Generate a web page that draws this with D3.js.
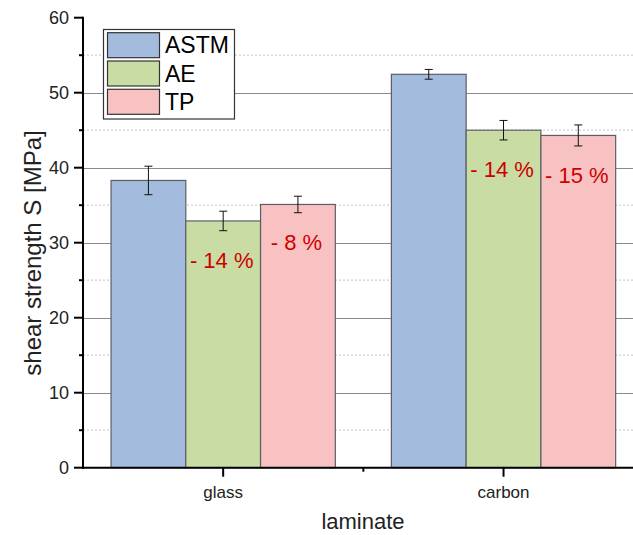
<!DOCTYPE html>
<html>
<head>
<meta charset="utf-8">
<script src="https://cdn.jsdelivr.net/npm/d3@7/dist/d3.min.js"></script>
<style>
  html, body { margin: 0; padding: 0; background: #fff; }
  svg { display: block; font-family: "Liberation Sans", Arial, sans-serif; }
</style>
</head>
<body>
<svg id="chart" width="633" height="535"></svg>
<script>
// Laminate types and test methods
const laminates = ["glass", "carbon"];
const methods = ["ASTM", "AE", "TP"];
const methodColors = ["#a3bbdc", "#c8dca4", "#f8c2c2"];

// Mean shear strength [MPa] per method, one array per laminate
const glassValues = [38.3, 32.9, 35.1];
const carbonValues = [52.45, 45.0, 44.3];
// Standard deviations for the error bars
const glassErrors = [1.9, 1.3, 1.1];
const carbonErrors = [0.65, 1.3, 1.4];
// Relative difference to ASTM
const glassLabels = ["", "- 14 %", "- 8 %"];
const carbonLabels = ["", "- 14 %", "- 15 %"];

const yMajorTicks = [0, 10, 20, 30, 40, 50, 60];
const yMinorTicks = [5, 15, 25, 35, 45, 55];

const rows = [
  { laminate: "glass", values: glassValues, errors: glassErrors, labels: glassLabels },
  { laminate: "carbon", values: carbonValues, errors: carbonErrors, labels: carbonLabels }
];

const svg = d3.select("#chart");
const plotLeft = 83, plotTop = 17.7, plotBottom = 467.7, plotRight = 643.7;

const x = d3.scaleBand().domain(laminates).range([plotLeft, plotRight]).padding(0);
const xs = d3.scaleBand().domain(methods)
  .range([x.bandwidth() * 0.1, x.bandwidth() * 0.9]).padding(0);
const y = d3.scaleLinear().domain([0, 60]).range([plotBottom, plotTop]);
const color = d3.scaleOrdinal().domain(methods).range(methodColors);

// Grid lines
svg.append("g").selectAll("line").data(yMinorTicks).join("line")
  .attr("x1", plotLeft).attr("x2", 633)
  .attr("y1", d => y(d)).attr("y2", d => y(d))
  .attr("stroke", "#cfcfcf").attr("stroke-width", 1.2).attr("stroke-dasharray", "2,2");
svg.append("g").selectAll("line").data(yMajorTicks.filter(d => d > 0 && d < 60)).join("line")
  .attr("x1", plotLeft).attr("x2", 633)
  .attr("y1", d => Math.round(y(d)) + 0.5).attr("y2", d => Math.round(y(d)) + 0.5)
  .attr("stroke", "#8a8a8a").attr("stroke-width", 1);

// Bars
const groups = svg.append("g").selectAll("g").data(rows).join("g")
  .attr("transform", d => `translate(${x(d.laminate)},0)`);

const cells = groups.selectAll("g.cell")
  .data(d => methods.map((m, i) => ({ method: m, value: d.values[i], err: d.errors[i], label: d.labels[i] })))
  .join("g").attr("class", "cell");

cells.append("rect")
  .attr("x", d => xs(d.method))
  .attr("width", xs.bandwidth())
  .attr("y", d => y(d.value))
  .attr("height", d => y(0) - y(d.value))
  .attr("fill", d => color(d.method))
  .attr("stroke", "#5a5f66").attr("stroke-width", 1.2);

// Error bars
const cap = 4;
cells.append("line")
  .attr("x1", d => xs(d.method) + xs.bandwidth() / 2)
  .attr("x2", d => xs(d.method) + xs.bandwidth() / 2)
  .attr("y1", d => y(d.value + d.err)).attr("y2", d => y(d.value - d.err))
  .attr("stroke", "#111").attr("stroke-width", 1);
cells.selectAll("line.cap").data(d => [
    { c: xs(d.method) + xs.bandwidth() / 2, v: d.value + d.err },
    { c: xs(d.method) + xs.bandwidth() / 2, v: d.value - d.err }])
  .join("line").attr("class", "cap")
  .attr("x1", d => d.c - cap).attr("x2", d => d.c + cap)
  .attr("y1", d => y(d.v)).attr("y2", d => y(d.v))
  .attr("stroke", "#111").attr("stroke-width", 1);

// Percentage labels
cells.filter(d => d.label).append("text")
  .attr("x", d => xs(d.method) + xs.bandwidth() / 2 - 1.5)
  .attr("y", d => y(d.value - d.err) + 37.5)
  .attr("text-anchor", "middle")
  .attr("font-size", 22)
  .attr("fill", "#cc0000")
  .text(d => d.label);

// Y axis
const yAxis = svg.append("g");
yAxis.append("line").attr("x1", plotLeft).attr("x2", plotLeft).attr("y1", plotTop - 1).attr("y2", plotBottom + 1)
  .attr("stroke", "#000").attr("stroke-width", 2);
yAxis.selectAll("line.tmaj").data(yMajorTicks).join("line").attr("class", "tmaj")
  .attr("x1", plotLeft - 9).attr("x2", plotLeft)
  .attr("y1", d => y(d)).attr("y2", d => y(d))
  .attr("stroke", "#000").attr("stroke-width", 2);
yAxis.selectAll("line.tmin").data(yMinorTicks).join("line").attr("class", "tmin")
  .attr("x1", plotLeft - 4).attr("x2", plotLeft)
  .attr("y1", d => y(d)).attr("y2", d => y(d))
  .attr("stroke", "#000").attr("stroke-width", 2);
yAxis.selectAll("text").data(yMajorTicks).join("text")
  .attr("x", plotLeft - 14).attr("y", d => y(d) + 6.5)
  .attr("text-anchor", "end").attr("font-size", 18).attr("fill", "#222")
  .text(d => d);

// X axis
const xAxis = svg.append("g");
xAxis.append("line").attr("x1", plotLeft - 1).attr("x2", 633).attr("y1", plotBottom).attr("y2", plotBottom)
  .attr("stroke", "#000").attr("stroke-width", 2);
xAxis.selectAll("line.tmaj").data(laminates).join("line").attr("class", "tmaj")
  .attr("x1", d => x(d) + x.bandwidth() / 2).attr("x2", d => x(d) + x.bandwidth() / 2)
  .attr("y1", plotBottom).attr("y2", plotBottom + 9)
  .attr("stroke", "#000").attr("stroke-width", 2);
xAxis.append("line")
  .attr("x1", x("carbon")).attr("x2", x("carbon"))
  .attr("y1", plotBottom).attr("y2", plotBottom + 4)
  .attr("stroke", "#000").attr("stroke-width", 2);
xAxis.selectAll("text").data(laminates).join("text")
  .attr("x", d => x(d) + x.bandwidth() / 2).attr("y", plotBottom + 30)
  .attr("text-anchor", "middle").attr("font-size", 17).attr("fill", "#222")
  .text(d => d);

// Axis titles
svg.append("text").attr("x", 363).attr("y", 529)
  .attr("text-anchor", "middle").attr("font-size", 22).attr("fill", "#222")
  .text("laminate");
svg.append("text")
  .attr("transform", `translate(41,${(125 + 381) / 2}) rotate(-90)`)
  .attr("text-anchor", "middle").attr("font-size", 24).attr("fill", "#222")
  .text("shear strength S [MPa]");

// Legend
const lg = svg.append("g");
lg.append("rect").attr("x", 103.5).attr("y", 29.5).attr("width", 131).attr("height", 89.5)
  .attr("fill", "#fff").attr("stroke", "#333").attr("stroke-width", 1.2);
const items = lg.selectAll("g.item").data(methods).join("g").attr("class", "item")
  .attr("transform", (d, i) => `translate(0,${32.7 + i * 28.3})`);
items.append("rect").attr("x", 107.5).attr("y", 0).attr("width", 52).attr("height", 25)
  .attr("fill", d => color(d)).attr("stroke", "#333").attr("stroke-width", 1.2);
items.append("text").attr("x", 165).attr("y", 20.5)
  .attr("font-size", 23).attr("fill", "#000")
  .text(d => d);
</script>
</body>
</html>
